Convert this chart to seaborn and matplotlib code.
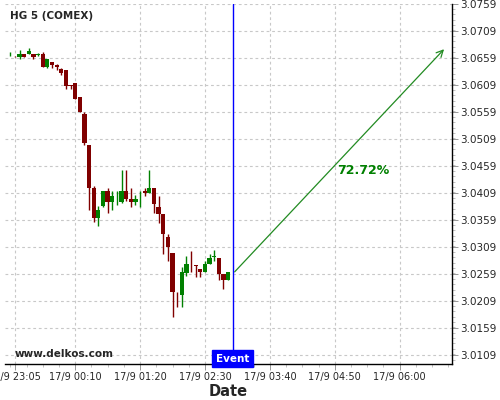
import matplotlib
matplotlib.use("Agg")
import matplotlib.pyplot as plt
import numpy as np
import pandas as pd
import seaborn as sns
from matplotlib.ticker import FixedLocator, MultipleLocator

# 5-minute candles starting 23:00 (x = minutes after 23:00)
opens = [3.0666, 3.0661, 3.0660, 3.0666, 3.0666, 3.0666, 3.0665, 3.0666, 3.0642, 3.0651,
         3.0646, 3.0638, 3.0636, 3.0608, 3.0613, 3.0586, 3.0556, 3.0498, 3.0418, 3.0363,
         3.0384, 3.0413, 3.0393, 3.0405, 3.0393, 3.0413, 3.0398, 3.0393, 3.0405, 3.0413,
         3.0408, 3.0418, 3.0382, 3.0369, 3.0327, 3.0297, 3.0226, 3.0219, 3.0261, 3.0276,
         3.0275, 3.0268, 3.0263, 3.0277, 3.0291, 3.0289, 3.0259, 3.0248]
highs = [3.0670, 3.0662, 3.0673, 3.0667, 3.0677, 3.0667, 3.0669, 3.0670, 3.0657, 3.0651,
         3.0647, 3.0640, 3.0636, 3.0608, 3.0613, 3.0587, 3.0558, 3.0498, 3.0421, 3.0385,
         3.0413, 3.0418, 3.0413, 3.0413, 3.0451, 3.0451, 3.0418, 3.0405, 3.0413, 3.0418,
         3.0451, 3.0418, 3.0404, 3.0369, 3.0333, 3.0297, 3.0226, 3.0272, 3.0292, 3.0302,
         3.0275, 3.0268, 3.0282, 3.0296, 3.0303, 3.0289, 3.0259, 3.0263]
lows = [3.0663, 3.0660, 3.0657, 3.0660, 3.0666, 3.0658, 3.0662, 3.0642, 3.0640, 3.0641,
        3.0636, 3.0628, 3.0601, 3.0601, 3.0583, 3.0558, 3.0498, 3.0377, 3.0356, 3.0348,
        3.0382, 3.0371, 3.0377, 3.0387, 3.0391, 3.0394, 3.0383, 3.0386, 3.0382, 3.0404,
        3.0408, 3.0371, 3.0354, 3.0296, 3.0283, 3.0179, 3.0197, 3.0197, 3.0255, 3.0262,
        3.0253, 3.0253, 3.0262, 3.0277, 3.0283, 3.0247, 3.0231, 3.0247]
closes = [3.0666, 3.0660, 3.0667, 3.0661, 3.0671, 3.0661, 3.0666, 3.0642, 3.0657, 3.0646,
          3.0642, 3.0632, 3.0607, 3.0607, 3.0583, 3.0558, 3.0502, 3.0419, 3.0363, 3.0377,
          3.0413, 3.0393, 3.0404, 3.0405, 3.0413, 3.0398, 3.0393, 3.0398, 3.0406, 3.0408,
          3.0418, 3.0388, 3.0369, 3.0333, 3.0308, 3.0225, 3.0225, 3.0262, 3.0277, 3.0275,
          3.0274, 3.0263, 3.0277, 3.0289, 3.0292, 3.0259, 3.0248, 3.0262]

tick_minutes = [5, 70, 140, 210, 280, 350, 420]
tick_labels = ["17/9 23:05", "17/9 00:10", "17/9 01:20", "17/9 02:30",
               "17/9 03:40", "17/9 04:50", "17/9 06:00"]
y_ticks = [3.0109, 3.0159, 3.0209, 3.0259, 3.0309, 3.0359, 3.0409, 3.0459,
           3.0509, 3.0559, 3.0609, 3.0659, 3.0709, 3.0759]

event_minute = 240
arrow_start = 3.0259
arrow_end_minute = 470
arrow_target = 3.0679
pct_label = "72.72%"

df = pd.DataFrame({"open": opens, "high": highs, "low": lows, "close": closes})
df["t"] = np.arange(len(df)) * 5
df["up"] = df["close"] >= df["open"]
df["bottom"] = df[["open", "close"]].min(axis=1)
df["height"] = (df["close"] - df["open"]).abs().clip(lower=0.00007)
df["color"] = np.where(df["up"], "#008000", "#800000")

sns.set_theme(style="white")
plt.rcParams["font.family"] = ["DejaVu Sans"]

fig = plt.figure(figsize=(5, 4), dpi=100)
ax = fig.add_axes([0.01, 0.09, 0.894, 0.90])

ax.vlines(df["t"], df["low"], df["high"], colors=df["color"], linewidth=1, zorder=3)
ax.bar(df["t"], df["height"], bottom=df["bottom"], width=4.6, color=df["color"],
       linewidth=0, zorder=4)

ax.axvline(event_minute, color="#0000ff", linewidth=1, zorder=5)
ax.annotate("", xy=(arrow_end_minute, arrow_target), xytext=(event_minute, arrow_start),
            arrowprops=dict(arrowstyle="->", color="#228b22", lw=0.9,
                            mutation_scale=12), zorder=6)
ax.text(353, 3.0451, pct_label, color="#008000", fontsize=9, fontweight="bold",
        va="center", ha="left", zorder=7)

ax.set_xlim(-5.7, 476.5)
ax.set_ylim(3.0092, 3.0759)

ax.xaxis.set_major_locator(FixedLocator(tick_minutes))
ax.set_xticklabels(tick_labels, fontsize=7)
ax.xaxis.set_minor_locator(MultipleLocator(17.5))
ax.yaxis.set_major_locator(FixedLocator(y_ticks))
ax.set_yticklabels([f"{v:.4f}" for v in y_ticks], fontsize=7.5)
ax.yaxis.set_minor_locator(MultipleLocator(0.001))
ax.yaxis.tick_right()

ax.tick_params(axis="both", which="major", length=4, width=0.6, color="#888888", pad=2)
ax.tick_params(axis="both", which="minor", length=2, width=0.5, color="#aaaaaa")
ax.tick_params(axis="y", which="both", right=True, left=False)
ax.tick_params(axis="x", which="both", bottom=True, top=False)

ax.grid(True, which="major", color="#c8c8c8", linestyle=(0, (2.5, 2.5)), linewidth=0.8)
for side in ["left", "top"]:
    ax.spines[side].set_visible(False)
for side in ["bottom", "right"]:
    ax.spines[side].set_visible(True)
    ax.spines[side].set_color("black")
    ax.spines[side].set_linewidth(1)

ax.set_xlabel("Date", fontsize=10.5, fontweight="bold", labelpad=1)

ax.text(0.012, 0.967, "HG 5 (COMEX)", transform=ax.transAxes, fontsize=7.5,
        fontweight="bold", va="center", ha="left")
ax.text(0.022, 0.028, "www.delkos.com", transform=ax.transAxes, fontsize=7.5,
        fontweight="bold", va="center", ha="left")
ax.text(event_minute, 3.0102, "Event", color="white", fontsize=7.5, fontweight="bold",
        ha="center", va="center", zorder=8,
        bbox=dict(boxstyle="square,pad=0.35", facecolor="#0000ff", edgecolor="#0000ff"))

fig.savefig("out.png", dpi=100)
plt.close(fig)
